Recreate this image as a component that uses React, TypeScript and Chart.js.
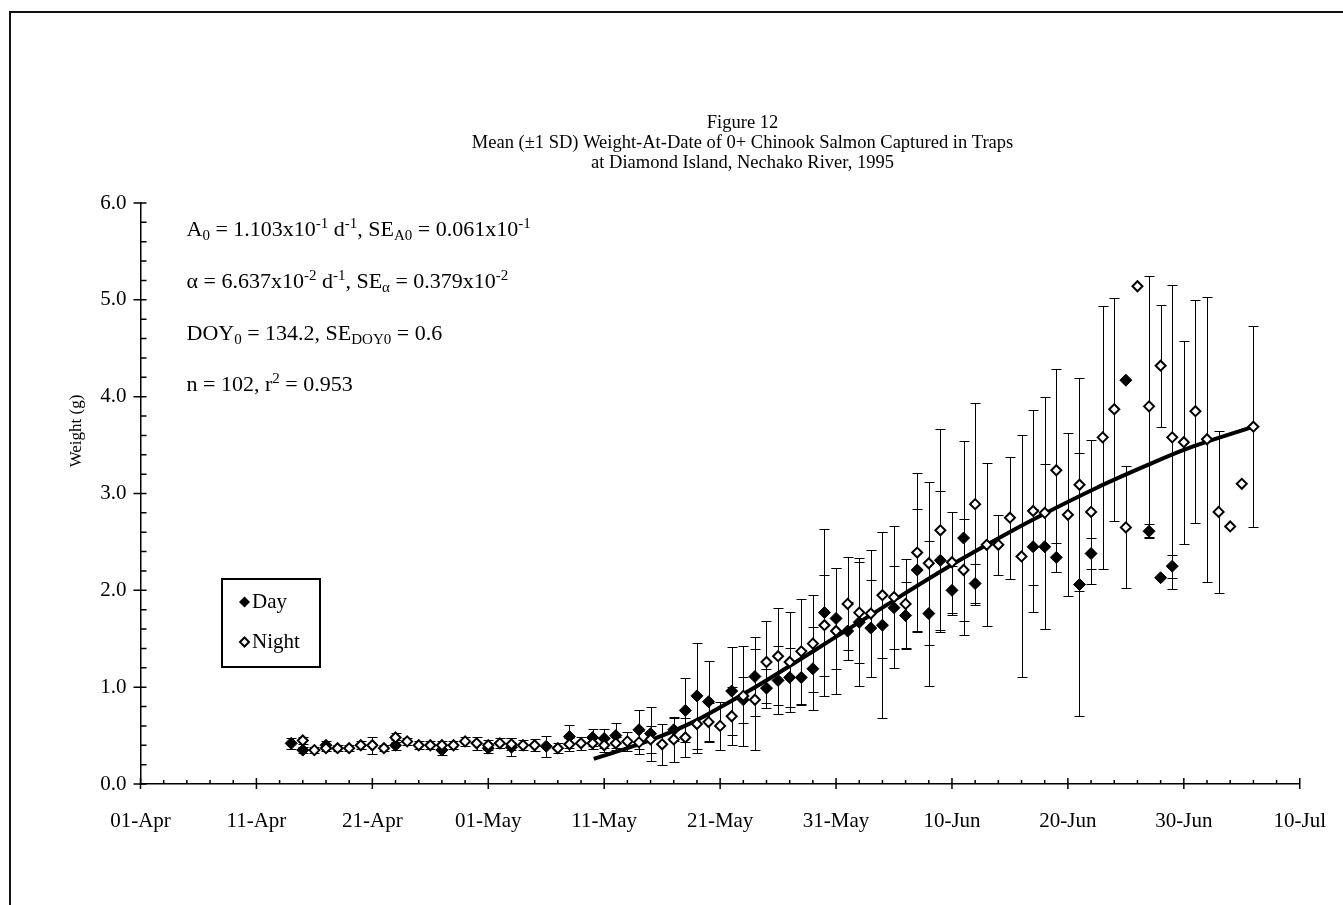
import React, { useEffect, useRef } from "react";
import { Chart, registerables } from "chart.js";

Chart.register(...registerables);

const FONT = '"Liberation Serif", "Times New Roman", serif';

// ---------- text ----------
const titleLines = [
  "Figure 12",
  "Mean (\u00B11 SD) Weight-At-Date of 0+ Chinook Salmon Captured in Traps",
  "at Diamond Island, Nechako River, 1995",
];
const yAxisTitle = "Weight (g)";
const legendLabels = ["Day", "Night"];

// ---------- axes ----------
const xTickDoy = [91, 101, 111, 121, 131, 141, 151, 161, 171, 181, 191];
const xTickLabels = ["01-Apr", "11-Apr", "21-Apr", "01-May", "11-May", "21-May", "31-May", "10-Jun", "20-Jun", "30-Jun", "10-Jul"];
const yTickValues = [0, 1, 2, 3, 4, 5, 6];

// ---------- data (day of year, mean weight g, SD) ----------
const dayDoy = [104, 105, 107, 113, 117, 121, 123, 126, 128, 130, 131, 132, 134, 135, 137, 138, 139, 140, 142, 143, 144, 145, 146, 147, 148, 149, 150, 151, 152, 153, 154, 155, 156, 157, 158, 159, 160, 161, 162, 163, 168, 169, 170, 172, 173, 176, 178, 179, 180];
const dayMean = [0.42, 0.35, 0.40, 0.40, 0.35, 0.37, 0.38, 0.39, 0.49, 0.48, 0.47, 0.50, 0.56, 0.52, 0.56, 0.76, 0.91, 0.85, 0.96, 0.87, 1.11, 0.99, 1.07, 1.10, 1.10, 1.19, 1.77, 1.71, 1.58, 1.67, 1.61, 1.64, 1.82, 1.74, 2.21, 1.76, 2.31, 2.00, 2.54, 2.07, 2.45, 2.45, 2.34, 2.06, 2.38, 4.17, 2.61, 2.13, 2.25];
const daySd = [0.06, 0.03, 0.04, 0.05, 0.05, 0.05, 0.09, 0.11, 0.12, 0.09, 0.10, 0.13, 0.20, 0.28, 0.12, 0.33, 0.55, 0.42, 0.45, 0.24, 0.41, 0.20, 0.35, 0.30, 0.28, 0.43, 0.86, 0.52, 0.30, 0.66, 0.50, 0.96, 0.43, 0.35, 0.63, 0.75, 0.72, 0.25, 1.00, 0.20, 0.39, 0.85, 0.15, 1.36, 0.16, 0, 0.07, 0, 0.12];

const nightDoy = [105, 106, 107, 108, 109, 110, 111, 112, 113, 114, 115, 116, 117, 118, 119, 120, 121, 122, 123, 124, 125, 127, 128, 129, 130, 131, 132, 133, 134, 135, 136, 137, 138, 139, 140, 141, 142, 143, 144, 145, 146, 147, 148, 149, 150, 151, 152, 153, 154, 155, 156, 157, 158, 159, 160, 161, 162, 163, 164, 165, 166, 167, 168, 169, 170, 171, 172, 173, 174, 175, 176, 177, 178, 179, 180, 181, 182, 183, 184, 185, 186, 187];
const nightMean = [0.45, 0.35, 0.37, 0.37, 0.37, 0.40, 0.40, 0.37, 0.48, 0.44, 0.40, 0.40, 0.40, 0.40, 0.44, 0.42, 0.40, 0.42, 0.41, 0.40, 0.40, 0.37, 0.41, 0.42, 0.42, 0.40, 0.42, 0.44, 0.43, 0.46, 0.41, 0.46, 0.48, 0.62, 0.64, 0.60, 0.70, 0.91, 0.87, 1.26, 1.32, 1.26, 1.37, 1.45, 1.64, 1.58, 1.86, 1.77, 1.76, 1.95, 1.93, 1.86, 2.39, 2.28, 2.62, 2.29, 2.21, 2.89, 2.47, 2.47, 2.75, 2.35, 2.82, 2.80, 3.24, 2.78, 3.09, 2.81, 3.58, 3.87, 2.65, 5.14, 3.90, 4.32, 3.58, 3.53, 3.85, 3.56, 2.81, 2.66, 3.10, 3.69];
const nightSd = [0.04, 0.03, 0.03, 0.03, 0.03, 0.04, 0.09, 0.03, 0.05, 0.04, 0.04, 0.04, 0.04, 0.04, 0.05, 0.07, 0.05, 0.05, 0.06, 0.05, 0.06, 0.05, 0.07, 0.07, 0.06, 0.07, 0.07, 0.10, 0.12, 0.14, 0.21, 0.23, 0.20, 0.30, 0.20, 0.25, 0.30, 0.52, 0.52, 0.42, 0.50, 0.52, 0.54, 0.50, 0.52, 0.65, 0.48, 0.52, 0.66, 0.65, 0.73, 0.46, 0.82, 0.84, 1.05, 0.52, 0.53, 1.04, 0.84, 0.31, 0.63, 1.25, 1.04, 1.20, 1.05, 0.84, 1.10, 0.74, 1.36, 1.15, 0.63, 0, 1.35, 0.63, 1.57, 1.05, 1.15, 1.47, 0.84, 0, 0, 1.04];

// fitted growth curve
const fitDoy = [130.1, 133, 136, 139, 142, 144.3, 149.4, 154.6, 156.3, 161.5, 165.8, 168.3, 173.5, 178, 181, 187];
const fitWeight = [0.26, 0.37, 0.50, 0.66, 0.86, 1.02, 1.40, 1.79, 1.92, 2.30, 2.59, 2.75, 3.06, 3.30, 3.45, 3.69];

// statistics annotation: [text, kind]  kind: n = normal, sub, sup
type Seg = [string, "n" | "sub" | "sup"];
const statLines: Seg[][] = [
  [["A", "n"], ["0", "sub"], [" = 1.103x10", "n"], ["-1", "sup"], [" d", "n"], ["-1", "sup"], [", SE", "n"], ["A0", "sub"], [" = 0.061x10", "n"], ["-1", "sup"]],
  [["\u03B1 = 6.637x10", "n"], ["-2", "sup"], [" d", "n"], ["-1", "sup"], [", SE", "n"], ["\u03B1", "sub"], [" = 0.379x10", "n"], ["-2", "sup"]],
  [["DOY", "n"], ["0", "sub"], [" = 134.2, SE", "n"], ["DOY0", "sub"], [" = 0.6", "n"]],
  [["n = 102, r", "n"], ["2", "sup"], [" = 0.953", "n"]],
];

function toPts(xs: number[], ys: number[]) {
  return xs.map((x, i) => ({ x, y: ys[i] }));
}

function diamond(ctx: CanvasRenderingContext2D, x: number, y: number, r: number, filled: boolean) {
  ctx.beginPath();
  ctx.moveTo(x - r, y);
  ctx.lineTo(x, y - r);
  ctx.lineTo(x + r, y);
  ctx.lineTo(x, y + r);
  ctx.closePath();
  if (filled) {
    ctx.fillStyle = "#000";
    ctx.fill();
  } else {
    ctx.fillStyle = "#fff";
    ctx.fill();
    ctx.lineWidth = 2;
    ctx.strokeStyle = "#000";
    ctx.stroke();
  }
}

function drawRich(ctx: CanvasRenderingContext2D, segs: Seg[], x: number, y: number) {
  let cx = x;
  for (const [t, k] of segs) {
    const size = k === "n" ? 22 : 15;
    ctx.font = `${size}px ${FONT}`;
    const dy = k === "sub" ? 4 : k === "sup" ? -8 : 0;
    ctx.fillText(t, cx, y + dy);
    cx += ctx.measureText(t).width;
  }
}

const overlay = {
  id: "overlay",
  beforeDatasetsDraw(chart: any) {
    const { ctx, scales } = chart;
    const xs = scales.x;
    const ys = scales.y;
    ctx.save();
    ctx.strokeStyle = "#000";
    ctx.lineWidth = 1;
    const bars = (doy: number[], mean: number[], sd: number[]) => {
      for (let i = 0; i < doy.length; i++) {
        if (!sd[i]) continue;
        const px = Math.round(xs.getPixelForValue(doy[i])) + 0.5;
        const top = Math.round(ys.getPixelForValue(mean[i] + sd[i])) + 0.5;
        const bot = Math.round(ys.getPixelForValue(Math.max(0, mean[i] - sd[i]))) + 0.5;
        ctx.beginPath();
        ctx.moveTo(px, top);
        ctx.lineTo(px, bot);
        ctx.moveTo(px - 5, top);
        ctx.lineTo(px + 5, top);
        ctx.moveTo(px - 5, bot);
        ctx.lineTo(px + 5, bot);
        ctx.stroke();
      }
    };
    bars(dayDoy, dayMean, daySd);
    bars(nightDoy, nightMean, nightSd);
    ctx.restore();
  },
  afterDraw(chart: any) {
    const { ctx, scales, chartArea } = chart;
    const xs = scales.x;
    const ys = scales.y;
    ctx.save();
    // tick marks
    ctx.strokeStyle = "#000";
    ctx.lineWidth = 1.5;
    const y0 = chartArea.bottom;
    const x0 = chartArea.left;
    ctx.beginPath();
    for (let d = xTickDoy[0]; d <= xTickDoy[xTickDoy.length - 1]; d += 2) {
      const px = xs.getPixelForValue(d);
      const major = xTickDoy.includes(d);
      ctx.moveTo(px, y0 - (major ? 6 : 4));
      ctx.lineTo(px, y0 + (major ? 5 : 0));
    }
    for (let k = 0; k <= 30; k++) {
      const v = k / 5;
      const py = ys.getPixelForValue(v);
      const major = k % 5 === 0;
      ctx.moveTo(x0 - (major ? 7 : 0), py);
      ctx.lineTo(x0 + 6, py);
    }
    ctx.stroke();

    ctx.fillStyle = "#000";
    // title
    ctx.font = `18.5px ${FONT}`;
    ctx.textAlign = "center";
    ctx.textBaseline = "middle";
    titleLines.forEach((t, i) => ctx.fillText(t, 742.5, 123 + i * 20));

    // y-axis title
    ctx.save();
    ctx.translate(77, 431);
    ctx.rotate(-Math.PI / 2);
    ctx.font = `17px ${FONT}`;
    ctx.fillText(yAxisTitle, 0, 0);
    ctx.restore();

    // statistics annotation
    ctx.textAlign = "left";
    ctx.textBaseline = "alphabetic";
    const baselines = [236, 288, 340, 391];
    statLines.forEach((segs, i) => drawRich(ctx, segs, 186.5, baselines[i]));

    // legend
    ctx.lineWidth = 2;
    ctx.strokeStyle = "#000";
    ctx.strokeRect(222, 579, 98, 88);
    diamond(ctx, 244.5, 602, 5.5, true);
    diamond(ctx, 244.5, 642, 4.5, false);
    ctx.fillStyle = "#000";
    ctx.font = `21px ${FONT}`;
    ctx.textBaseline = "middle";
    ctx.fillText(legendLabels[0], 252, 602);
    ctx.fillText(legendLabels[1], 252, 642);
    ctx.restore();
  },
};

export default function App() {
  const ref = useRef<HTMLCanvasElement | null>(null);
  useEffect(() => {
    if (!ref.current) return;
    const chart = new Chart(ref.current, {
      type: "scatter",
      data: {
        datasets: [
          {
            type: "line",
            label: "Fit",
            data: toPts(fitDoy, fitWeight),
            borderColor: "#000",
            borderWidth: 4,
            pointRadius: 0,
            cubicInterpolationMode: "monotone",
            fill: false,
            order: 3,
          } as any,
          {
            label: legendLabels[0],
            data: toPts(dayDoy, dayMean),
            pointStyle: "rectRot",
            pointRadius: 6,
            backgroundColor: "#000",
            borderColor: "#000",
            borderWidth: 1,
            order: 2,
          },
          {
            label: legendLabels[1],
            data: toPts(nightDoy, nightMean),
            pointStyle: "rectRot",
            pointRadius: 5,
            backgroundColor: "#fff",
            borderColor: "#000",
            borderWidth: 2,
            order: 1,
          },
        ],
      },
      options: {
        responsive: false,
        animation: false,
        devicePixelRatio: 1,
        layout: { padding: { left: 80.5, right: 39, top: 203, bottom: 61 } },
        plugins: {
          legend: { display: false },
          tooltip: { enabled: false },
          title: { display: false },
        },
        scales: {
          x: {
            type: "linear",
            min: xTickDoy[0],
            max: xTickDoy[xTickDoy.length - 1],
            afterBuildTicks: (s: any) => {
              s.ticks = xTickDoy.map((v) => ({ value: v }));
            },
            afterFit: (s: any) => {
              s.height = 60;
            },
            ticks: {
              callback: (_v: any, i: number) => xTickLabels[i],
              font: { family: FONT, size: 21 },
              color: "#000",
              padding: 17,
              maxRotation: 0,
              autoSkip: false,
            },
            grid: { display: false },
            border: { display: true, color: "#000", width: 1.5 },
          },
          y: {
            type: "linear",
            min: yTickValues[0],
            max: yTickValues[yTickValues.length - 1],
            afterBuildTicks: (s: any) => {
              s.ticks = yTickValues.map((v) => ({ value: v }));
            },
            afterFit: (s: any) => {
              s.width = 60;
            },
            ticks: {
              callback: (v: any) => Number(v).toFixed(1),
              font: { family: FONT, size: 21 },
              color: "#000",
              padding: 6,
            },
            grid: { display: false },
            border: { display: true, color: "#000", width: 1.5 },
          },
        },
      } as any,
      plugins: [overlay],
    });
    return () => chart.destroy();
  }, []);

  return (
    <div style={{ position: "fixed", left: 0, top: 0, width: 1343, height: 905, overflow: "hidden", background: "#fff" }}>
      <div
        style={{
          position: "absolute",
          left: 9,
          top: 11,
          width: 1400,
          height: 1000,
          borderTop: "2px solid #111",
          borderLeft: "2px solid #111",
        }}
      />
      <canvas ref={ref} width={1343} height={905} style={{ position: "absolute", left: 0, top: 0, display: "block" }} />
    </div>
  );
}
